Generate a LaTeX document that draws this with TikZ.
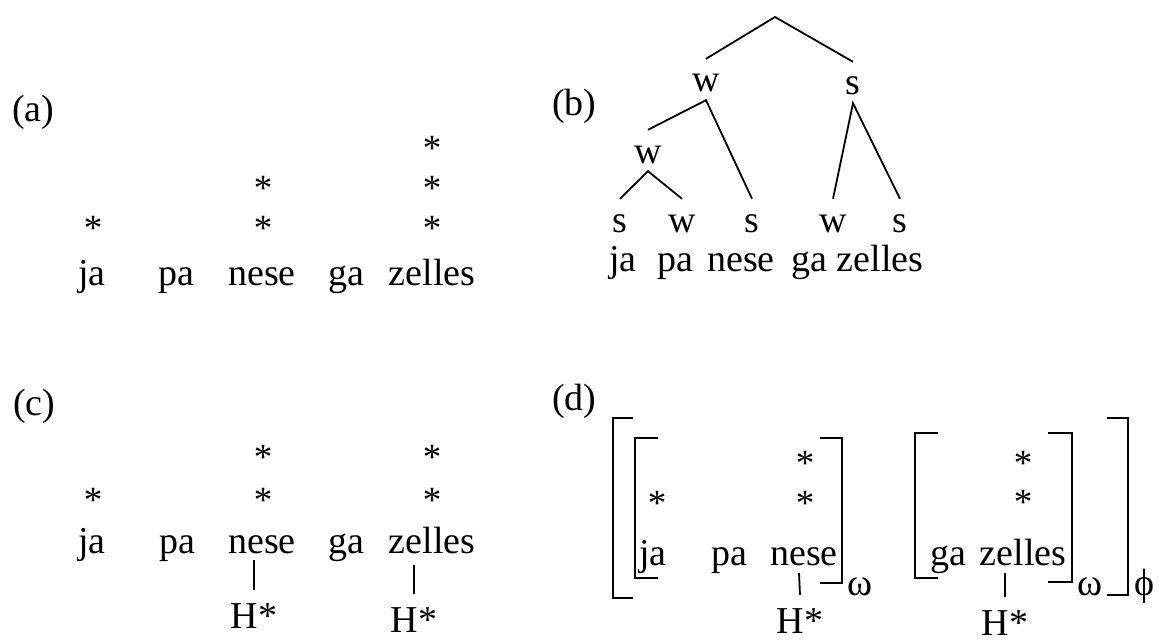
\documentclass[tikz,border=0pt]{standalone}
\usepackage{fontspec}
\setmainfont{Liberation Serif}
\usetikzlibrary{positioning}
\tikzset{
  wd/.style={anchor=base, inner sep=0pt},
  ast/.style={anchor=base, inner sep=0pt, yshift=-17pt, font=\fontsize{37}{40}\selectfont},
  lbl/.style={anchor=base, inner sep=0pt, text height=33pt, text depth=8pt},
  tone/.style={anchor=base, inner sep=0pt, text height=38pt},
  plab/.style={anchor=base west, inner sep=0pt},
  edge/.style={line width=1.8pt},
  brk/.style={line width=1.8pt},
}
% bracket: x of the stem, x of the tick ends, top, bottom
\newcommand{\bracketat}[4]{%
  \draw[brk] (#2,#3) -- (#1,#3) -- (#1,#4) -- (#2,#4);}

\begin{document}
\begin{tikzpicture}[x=1pt, y=-1pt, font=\fontsize{38}{44}\selectfont]
  \useasboundingbox (0,0) rectangle (1159,642);
  % (a) metrical grid
  \node[plab] (la) at (12,121) {(a)};
  \foreach \w/\x [count=\i] in {ja/92, pa/176, nese/262, ga/346, zelles/432}
    \node[wd] (a\i) at (\x,285) {\w};
  \foreach \x/\y [count=\i] in {93/223, 263/183, 263/223, 432/143, 432/183, 432/223}
    \node[ast] (as\i) at (\x,\y) {*};
  % (b) metrical tree
  \node[plab] (lb) at (552,115) {(b)};
  \coordinate (root) at (775,17);
  \node[lbl] (w1) at (706,92) {w};
  \node[lbl] (s1) at (853,95) {s};
  \node[lbl] (w2) at (648,163) {w};
  \foreach \t/\x [count=\i] in {s/620, w/682, s/752, w/833, s/900}
    \node[lbl] (lf\i) at (\x,232) {\t};
  \foreach \w/\x [count=\i] in {ja/623, pa/675, nese/741, ga/809, zelles/880}
    \node[wd] (b\i) at (\x,271) {\w};
  \draw[edge] (w1.north) -- (root) -- (s1.north);
  \draw[edge] (w2.north) -- (w1.south) -- (lf3.north);
  \draw[edge] (lf1.north) -- (w2.south) -- (lf2.north);
  \draw[edge] (lf4.north) -- (s1.south) -- (lf5.north);
  % (c) grid with pitch accents
  \node[plab] (lc) at (13,415) {(c)};
  \foreach \w/\x [count=\i] in {ja/92, pa/177, nese/262, ga/346, zelles/432}
    \node[wd] (c\i) at (\x,553) {\w};
  \foreach \x/\y [count=\i] in {93/495, 263/452, 263/495, 432/452, 432/495}
    \node[ast] (cs\i) at (\x,\y) {*};
  \node[tone] (ch1) at (254,628) {H*};
  \node[tone] (ch2) at (414,632) {H*};
  \coordinate (ct1) at (254,560);
  \coordinate (ct2) at (414,565);
  \draw[edge] (ct1) -- (ch1.north);
  \draw[edge] (ct2) -- (ch2.north);
  % (d) bracketed prosodic words
  \node[plab] (ld) at (552,410) {(d)};
  \foreach \w/\x [count=\i] in {ja/653, pa/729, nese/804, ga/948, zelles/1023}
    \node[wd] (d\i) at (\x,565) {\w};
  \foreach \x/\y [count=\i] in {657/498, 805/458, 805/498, 1023/458, 1023/497}
    \node[ast] (ds\i) at (\x,\y) {*};
  \node[tone] (dh1) at (800,633) {H*};
  \node[tone] (dh2) at (1005,635) {H*};
  \coordinate (dt1) at (799,573);
  \coordinate (dt2) at (1005,573);
  \draw[edge] (dt1) -- (dh1.north);
  \draw[edge] (dt2) -- (dh2.north);
  \bracketat{613}{633}{418}{598}
  \bracketat{635}{658}{438}{578}
  \bracketat{842}{820}{438}{583}
  \bracketat{915}{938}{433}{578}
  \bracketat{1072}{1048}{433}{582}
  \bracketat{1128}{1107}{418}{595}
  \node[plab] (om1) at (847,595) {ω};
  \node[plab] (om2) at (1077,595) {ω};
  \node[plab] (ph) at (1134,595) {ϕ};
\end{tikzpicture}
\end{document}
